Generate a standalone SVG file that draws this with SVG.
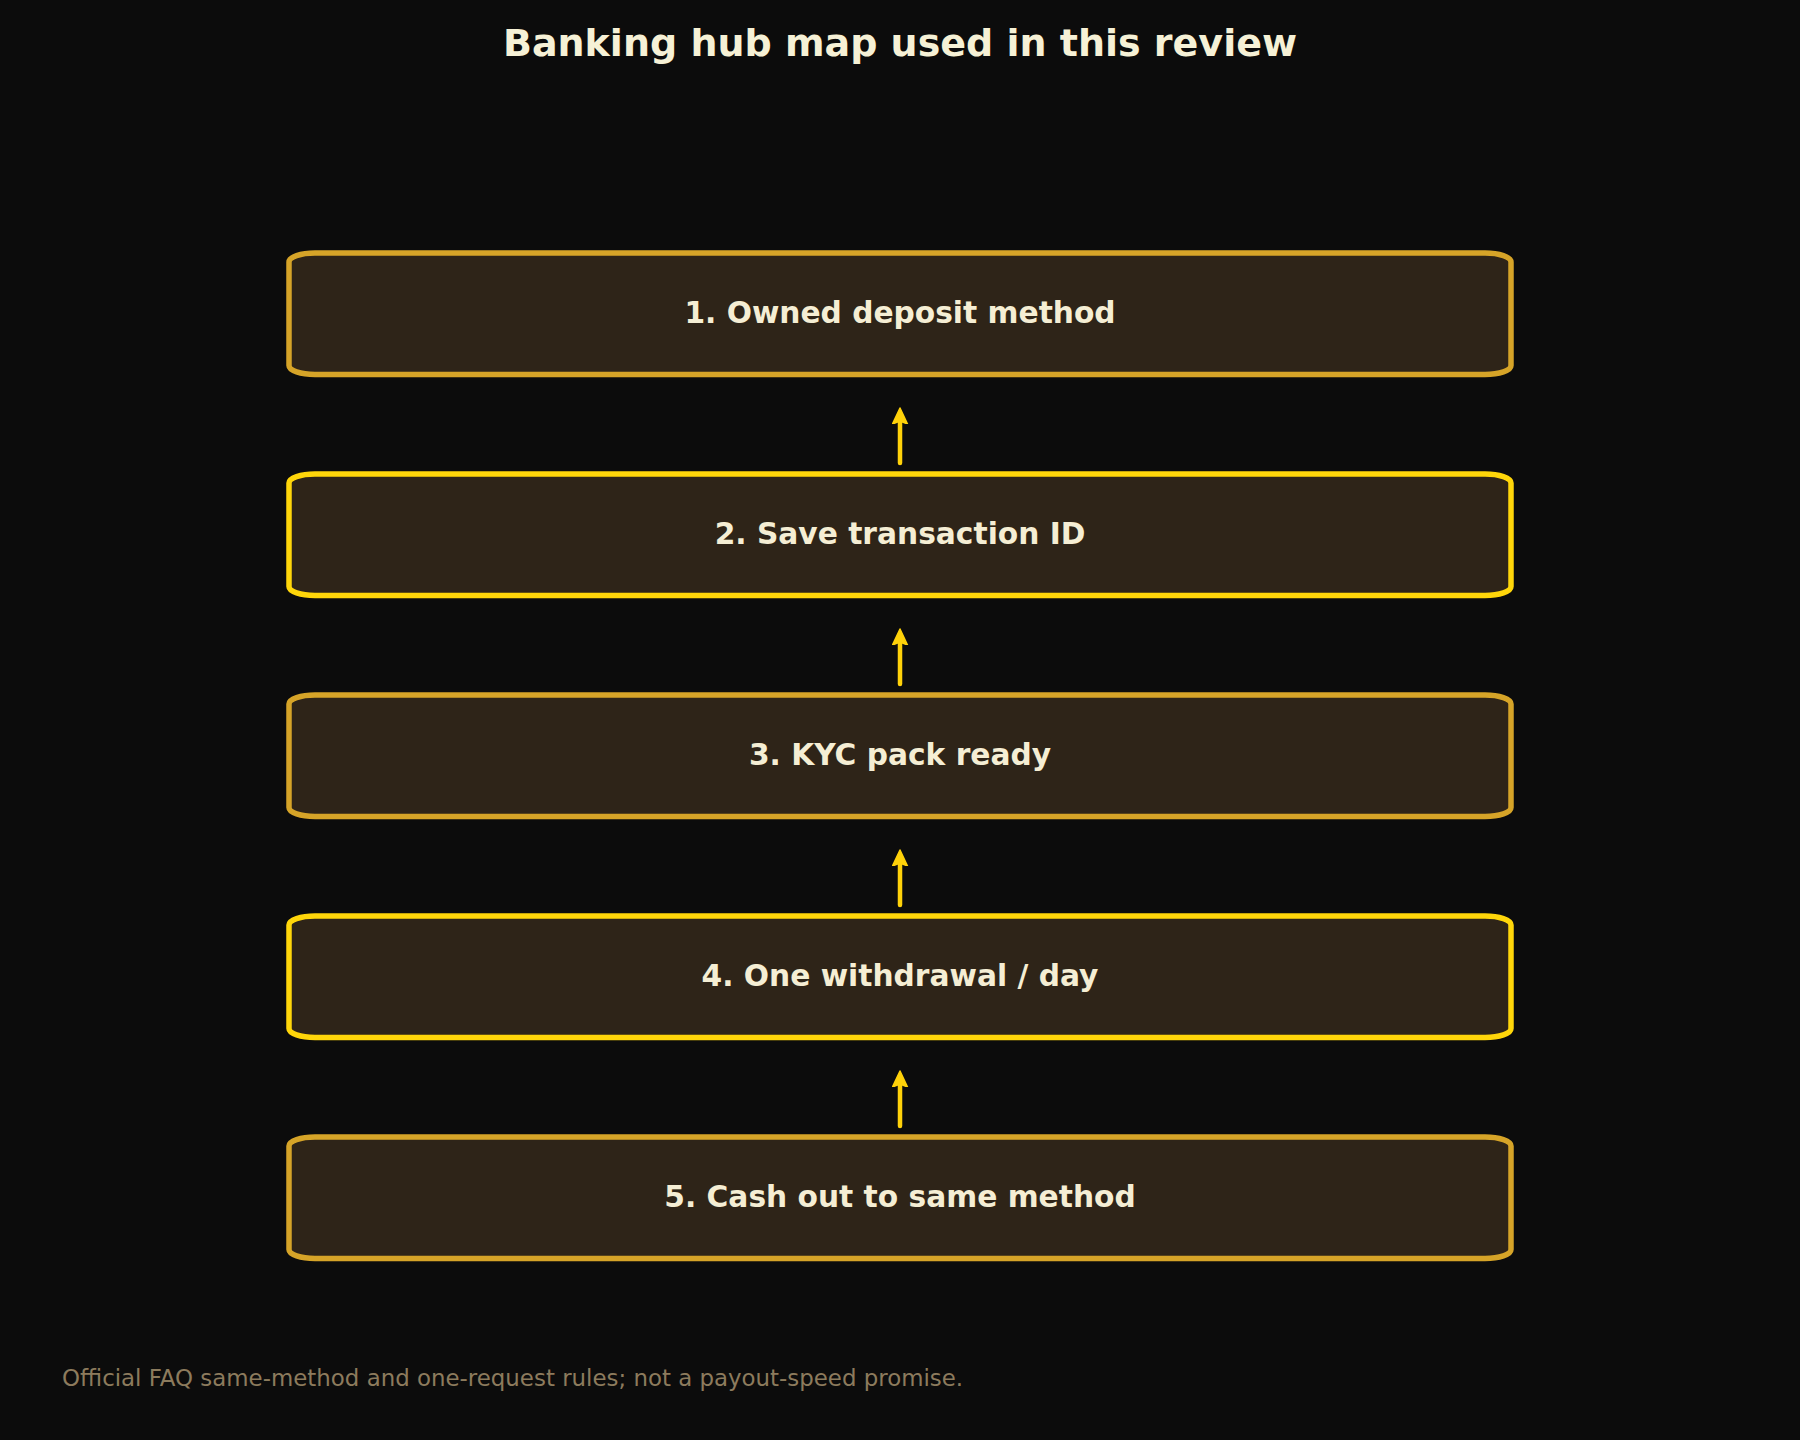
<svg xmlns="http://www.w3.org/2000/svg" width="1800" height="1440" viewBox="0 0 1800 1440">
<defs>
<style>
.bg{fill:#0c0c0c}
.title{font-family:"DejaVu Sans","Liberation Sans",sans-serif;font-weight:bold;font-size:38px;fill:#f6f1d6;text-anchor:middle}
.box{fill:#2e2418;stroke-width:5.5}
.gold{stroke:#d6a428}
.yellow{stroke:#ffd60a}
.label{font-family:"DejaVu Sans","Liberation Sans",sans-serif;font-weight:bold;font-size:29.7px;fill:#f5eed4;text-anchor:middle}
.foot{font-family:"DejaVu Sans","Liberation Sans",sans-serif;font-size:22.9px;fill:#8c7b5d}
.conn{stroke:#ffd20a;stroke-width:4.5;stroke-linecap:round;fill:none}
</style>
<marker id="ah" markerUnits="userSpaceOnUse" markerWidth="18" markerHeight="18" viewBox="0 0 18 18" refX="6" refY="8" orient="auto">
<path d="M0,0.5 L16,8 L0,15.5 L3,8 z" fill="#ffd20a" stroke="#ffd20a" stroke-width="1.5" stroke-linejoin="round"/>
</marker>
</defs>
<rect class="bg" x="0" y="0" width="1800" height="1440"/>
<text class="title" x="900" y="56">Banking hub map used in this review</text>
<g id="connectors">
<line class="conn" x1="900" y1="463" x2="900" y2="418" marker-end="url(#ah)"/>
<line class="conn" x1="900" y1="684" x2="900" y2="639" marker-end="url(#ah)"/>
<line class="conn" x1="900" y1="905" x2="900" y2="860" marker-end="url(#ah)"/>
<line class="conn" x1="900" y1="1126" x2="900" y2="1081" marker-end="url(#ah)"/>
</g>
<g id="node1">
<rect class="box gold" x="289" y="253" width="1222" height="121.5" rx="26" ry="9"/>
<text class="label" x="900" y="322.5">1. Owned deposit method</text>
</g>
<g id="node2">
<rect class="box yellow" x="289" y="474" width="1222" height="121.5" rx="26" ry="9"/>
<text class="label" x="900" y="543.5">2. Save transaction ID</text>
</g>
<g id="node3">
<rect class="box gold" x="289" y="695" width="1222" height="121.5" rx="26" ry="9"/>
<text class="label" x="900" y="764.5">3. KYC pack ready</text>
</g>
<g id="node4">
<rect class="box yellow" x="289" y="916" width="1222" height="121.5" rx="26" ry="9"/>
<text class="label" x="900" y="985.5">4. One withdrawal / day</text>
</g>
<g id="node5">
<rect class="box gold" x="289" y="1137" width="1222" height="121.5" rx="26" ry="9"/>
<text class="label" x="900" y="1206.5">5. Cash out to same method</text>
</g>
<text class="foot" x="62" y="1386">Official FAQ same-method and one-request rules; not a payout-speed promise.</text>
</svg>
